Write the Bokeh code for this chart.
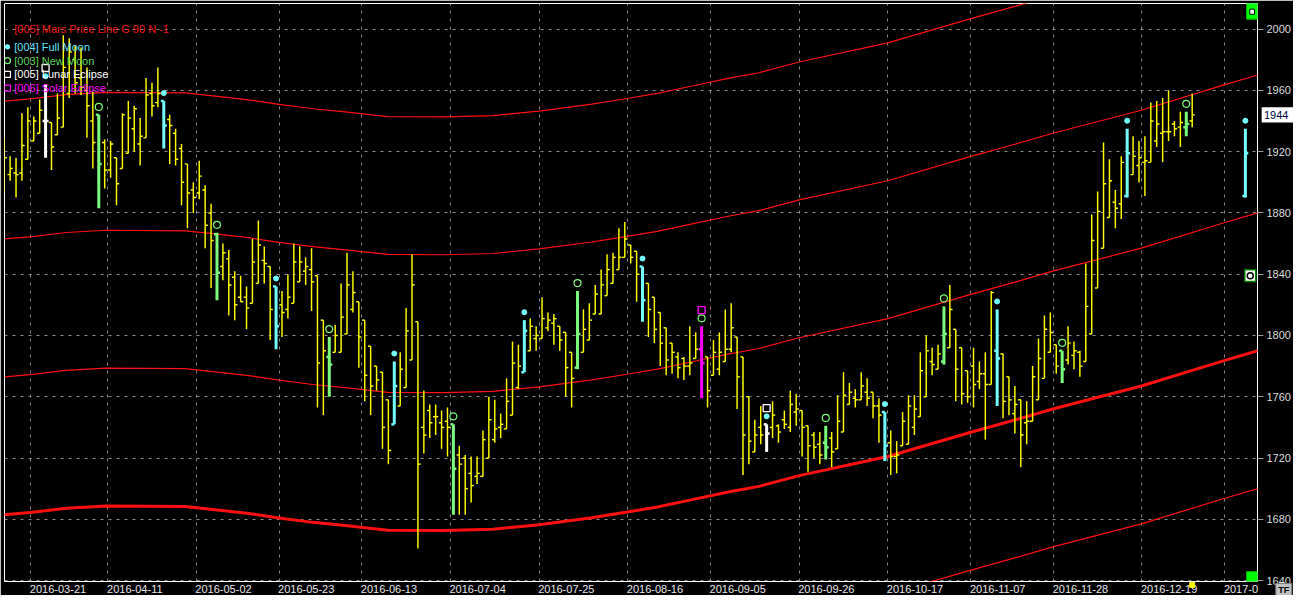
import pandas as pd
from bokeh.plotting import figure
from bokeh.models import FixedTicker, CustomJSTickFormatter, Range1d
from bokeh.core.properties import value
from bokeh.embed import file_html
from bokeh.resources import INLINE

# ---------------- data ----------------
first_day = "2016-03-14"
last_day = "2017-01-13"
holidays = ["2016-03-25", "2016-03-28", "2016-05-05", "2016-05-30",
            "2016-08-15", "2016-11-01", "2016-11-11", "2016-12-26"]

tick_dates = ["2016-03-21", "2016-04-11", "2016-05-02", "2016-05-23", "2016-06-13",
              "2016-07-04", "2016-07-25", "2016-08-16", "2016-09-05", "2016-09-26",
              "2016-10-17", "2016-11-07", "2016-11-28", "2016-12-19", "2017-01-09"]
tick_labels = ["2016-03-21", "2016-04-11", "2016-05-02", "2016-05-23", "2016-06-13",
               "2016-07-04", "2016-07-25", "2016-08-16", "2016-09-05", "2016-09-26",
               "2016-10-17", "2016-11-07", "2016-11-28", "2016-12-19", "2017-0"]
price_ticks = [1640, 1680, 1720, 1760, 1800, 1840, 1880, 1920, 1960, 2000]

high = [1929, 1917, 1916, 1945, 1949, 1943, 1954, 1964, 1939, 1958,
        1996, 1994, 1989, 1988, 1975, 1959, 1944, 1928, 1927, 1916,
        1945, 1953, 1950, 1942, 1968, 1965, 1975, 1953, 1944, 1935,
        1925, 1912, 1900, 1914, 1898, 1886, 1867, 1860, 1856, 1842,
        1839, 1832, 1863, 1875, 1858, 1845, 1832, 1829, 1840, 1860,
        1858, 1851, 1857, 1839, 1810, 1799, 1807, 1834, 1854, 1842,
        1822, 1810, 1793, 1780, 1776, 1758, 1783, 1789, 1818, 1853,
        1809, 1764, 1755, 1755, 1751, 1753, 1742, 1728, 1722, 1721,
        1721, 1738, 1760, 1758, 1749, 1772, 1796, 1794, 1810, 1811,
        1806, 1825, 1815, 1814, 1806, 1802, 1789, 1829, 1817, 1821,
        1833, 1843, 1853, 1854, 1870, 1874, 1859, 1855, 1845, 1834,
        1825, 1815, 1805, 1795, 1789, 1786, 1806, 1802, 1806, 1786,
        1797, 1802, 1817, 1821, 1799, 1786, 1760, 1745, 1754, 1742,
        1757, 1742, 1751, 1764, 1762, 1751, 1741, 1737, 1737, 1741,
        1737, 1761, 1776, 1769, 1765, 1776, 1772, 1763, 1759, 1750,
        1738, 1731, 1750, 1761, 1761, 1789, 1800, 1792, 1794, 1819,
        1833, 1804, 1792, 1777, 1792, 1783, 1789, 1829, 1817, 1788,
        1773, 1767, 1758, 1757, 1780, 1798, 1813, 1815, 1794, 1790,
        1806, 1796, 1790, 1847, 1879, 1894, 1926, 1915, 1895, 1917,
        1935, 1930, 1927, 1930, 1952, 1953, 1955, 1960, 1940, 1946,
        1946, 1958]
low = [1894, 1901, 1890, 1901, 1915, 1927, 1932, 1916, 1908, 1931,
       1936, 1955, 1958, 1957, 1929, 1909, 1883, 1896, 1903, 1885,
       1909, 1919, 1920, 1911, 1929, 1943, 1949, 1922, 1912, 1911,
       1885, 1870, 1880, 1889, 1857, 1831, 1823, 1836, 1813, 1810,
       1822, 1804, 1821, 1834, 1834, 1797, 1791, 1799, 1811, 1821,
       1835, 1833, 1816, 1753, 1748, 1760, 1789, 1789, 1801, 1815,
       1779, 1757, 1748, 1764, 1726, 1716, 1742, 1754, 1766, 1784,
       1661, 1723, 1733, 1735, 1726, 1721, 1683, 1683, 1683, 1691,
       1703, 1708, 1720, 1730, 1733, 1739, 1748, 1765, 1776, 1790,
       1790, 1798, 1803, 1794, 1790, 1760, 1753, 1778, 1789, 1797,
       1814, 1814, 1826, 1834, 1843, 1851, 1847, 1822, 1809, 1799,
       1795, 1780, 1774, 1775, 1772, 1771, 1774, 1785, 1759, 1753,
       1774, 1774, 1783, 1789, 1752, 1709, 1716, 1724, 1729, 1724,
       1733, 1730, 1739, 1737, 1741, 1721, 1711, 1720, 1716, 1719,
       1714, 1726, 1737, 1755, 1753, 1758, 1754, 1746, 1730, 1718,
       1709, 1710, 1728, 1729, 1735, 1747, 1760, 1774, 1778, 1781,
       1792, 1757, 1755, 1756, 1753, 1765, 1732, 1768, 1754, 1746,
       1748, 1736, 1714, 1729, 1744, 1758, 1772, 1789, 1775, 1769,
       1781, 1778, 1773, 1783, 1801, 1831, 1857, 1877, 1870, 1876,
       1890, 1905, 1900, 1891, 1913, 1923, 1913, 1927, 1930, 1923,
       1930, 1936]
open_ = [1895, 1905, 1906, 1906, 1915, 1927, 1932, 1940, 1939, 1931,
         1936, 1958, 1980, 1968, 1960, 1940, 1944, 1926, 1908, 1916,
         1909, 1919, 1935, 1925, 1929, 1958, 1952, 1953, 1941, 1932,
         1922, 1912, 1895, 1893, 1895, 1880, 1866, 1845, 1850, 1838,
         1825, 1825, 1821, 1834, 1849, 1845, 1832, 1820, 1817, 1821,
         1835, 1842, 1843, 1839, 1810, 1786, 1789, 1789, 1801, 1817,
         1822, 1810, 1793, 1780, 1776, 1758, 1742, 1754, 1766, 1784,
         1809, 1740, 1751, 1747, 1743, 1744, 1742, 1722, 1720, 1710,
         1708, 1708, 1720, 1732, 1740, 1739, 1748, 1766, 1776, 1790,
         1798, 1798, 1805, 1808, 1806, 1802, 1789, 1779, 1789, 1797,
         1814, 1814, 1826, 1834, 1843, 1851, 1859, 1855, 1845, 1834,
         1825, 1815, 1805, 1795, 1786, 1785, 1780, 1785, 1791, 1786,
         1774, 1778, 1783, 1791, 1799, 1786, 1760, 1724, 1740, 1742,
         1740, 1741, 1745, 1740, 1750, 1751, 1741, 1735, 1729, 1730,
         1733, 1726, 1737, 1755, 1759, 1758, 1763, 1763, 1754, 1750,
         1730, 1721, 1728, 1729, 1740, 1747, 1760, 1783, 1778, 1783,
         1792, 1804, 1792, 1777, 1780, 1770, 1775, 1768, 1790, 1788,
         1773, 1749, 1758, 1743, 1744, 1758, 1772, 1789, 1794, 1790,
         1784, 1787, 1789, 1783, 1801, 1831, 1857, 1877, 1887, 1886,
         1891, 1905, 1911, 1913, 1913, 1927, 1932, 1933, 1938, 1936,
         1936, 1940]
close = [1916, 1909, 1905, 1924, 1940, 1940, 1947, 1940, 1923, 1942,
         1975, 1985, 1965, 1962, 1950, 1926, 1912, 1908, 1925, 1899,
         1944, 1942, 1948, 1930, 1957, 1950, 1958, 1937, 1937, 1915,
         1900, 1893, 1890, 1904, 1872, 1862, 1841, 1854, 1833, 1820,
         1822, 1818, 1848, 1859, 1847, 1817, 1806, 1815, 1825, 1848,
         1848, 1845, 1835, 1782, 1790, 1781, 1800, 1812, 1833, 1828,
         1799, 1774, 1767, 1771, 1740, 1725, 1767, 1778, 1803, 1833,
         1716, 1735, 1743, 1747, 1740, 1740, 1713, 1716, 1700, 1702,
         1710, 1732, 1745, 1739, 1742, 1757, 1782, 1780, 1803, 1806,
         1800, 1811, 1810, 1811, 1797, 1779, 1772, 1801, 1804, 1810,
         1827, 1833, 1843, 1851, 1851, 1863, 1851, 1840, 1823, 1817,
         1804, 1795, 1784, 1789, 1779, 1780, 1782, 1791, 1782, 1764,
         1789, 1789, 1791, 1805, 1773, 1735, 1731, 1735, 1735, 1736,
         1748, 1737, 1742, 1755, 1752, 1740, 1728, 1727, 1722, 1727,
         1724, 1744, 1761, 1763, 1758, 1767, 1759, 1754, 1748, 1728,
         1721, 1722, 1744, 1754, 1752, 1777, 1790, 1781, 1788, 1801,
         1817, 1778, 1762, 1760, 1768, 1775, 1768, 1828, 1785, 1757,
         1758, 1755, 1735, 1744, 1773, 1785, 1804, 1802, 1780, 1778,
         1795, 1790, 1780, 1819, 1862, 1881, 1899, 1901, 1883, 1913,
         1919, 1917, 1916, 1914, 1940, 1938, 1933, 1933, 1935, 1939,
         1938, 1944]

full_moon_days = ["2016-03-23", "2016-04-22", "2016-05-20", "2016-06-20", "2016-07-20",
                  "2016-08-18", "2016-09-16", "2016-10-14", "2016-11-14", "2016-12-14"]
new_moon_days = ["2016-04-07", "2016-05-06", "2016-06-03", "2016-07-04", "2016-08-02",
                 "2016-09-01", "2016-09-30", "2016-10-28", "2016-11-29", "2016-12-29"]
lunar_eclipse_days = ["2016-03-23", "2016-09-16"]
solar_eclipse_days = ["2016-09-01"]

# projected full moon bar (2017-01-12)
future_full_moon_day = "2017-01-12"
future_open, future_high, future_low, future_close = 1891, 1935, 1890, 1919

# Mars price line (base harmonic), read at bar positions
mars_x = [0, 4.4, 10.5, 17.2, 30.6, 34.9, 41, 46.5, 52.2, 57.7, 64.9, 74.4, 82.7, 90.5,
          99.4, 105.4, 110.5, 116, 122.7, 127.7, 134.5, 149.5, 163.4, 171, 177.4,
          192.4, 206.4, 212.1]
mars_val = [1683, 1684.4, 1687.2, 1688.7, 1688.3, 1686.6, 1684, 1680.8, 1678, 1675.9,
            1672.9, 1672.7, 1673.5, 1676.5, 1681, 1684.7, 1688, 1692.5, 1698, 1701.5,
            1708.5, 1721, 1736.7, 1744.8, 1752, 1767, 1783.6, 1790]
mars_offsets = [-90, 0, 90, 180, 270]
last_price = 1944

# ---------------- styling ----------------
YELLOW = "#ffff00"
FM_COL = "#74ffff"
NM_COL = "#7cfc7c"
SE_COL = "#ff00ff"
LE_COL = "#ffffff"
RED = "#ff1010"
GRID = "#8a8a8a"
FONT = value("Liberation Sans")

days = [d for d in pd.bdate_range(first_day, last_day).strftime("%Y-%m-%d") if d not in holidays]
pos = {d: i for i, d in enumerate(days)}

X0, X1 = 0.05, 212.05
Y0, Y1 = 1639.4, 2016.7

p = figure(width=1293, height=595, output_backend="svg", toolbar_location=None,
           x_range=Range1d(X0, X1), y_range=Range1d(Y0, Y1), y_axis_location="right",
           background_fill_color="black", border_fill_color="black",
           min_border_left=4, min_border_top=3, min_border_right=0, min_border_bottom=0)
p.outline_line_color = "white"
p.outline_line_width = 1

# y axis (right)
yax = p.yaxis[0]
yax.ticker = FixedTicker(ticks=price_ticks)
yax.axis_line_color = None
yax.major_tick_out = 6
yax.major_tick_in = 0
yax.major_tick_line_color = "#9a9a9a"
yax.minor_tick_line_color = None
yax.major_label_text_color = "#dcdcdc"
yax.major_label_text_font = "Liberation Sans"
yax.major_label_text_font_size = "11px"
yax.major_label_standoff = 3

# x axis: grid at the start of each tick day, label left-aligned at the grid line
grid_pos = [pos[d] - 0.5 for d in tick_dates]
label_pos = [g + len(t) * 0.46 for g, t in zip(grid_pos, tick_labels)]
xax = p.xaxis[0]
xax.ticker = FixedTicker(ticks=label_pos)
xax.formatter = CustomJSTickFormatter(args=dict(pos=label_pos, labels=tick_labels), code="""
    for (let k = 0; k < pos.length; k++) { if (Math.abs(pos[k] - tick) < 1e-6) return labels[k]; }
    return "";
""")
xax.axis_line_color = None
xax.major_tick_out = 0
xax.major_tick_in = 0
xax.minor_tick_line_color = None
xax.major_label_text_color = "#e8e8e8"
xax.major_label_text_font = "Liberation Sans"
xax.major_label_text_font_size = "11px"
xax.major_label_standoff = 3

p.xgrid.ticker = FixedTicker(ticks=grid_pos)
p.ygrid.ticker = FixedTicker(ticks=price_ticks)
for g in (p.xgrid[0], p.ygrid[0]):
    g.grid_line_color = GRID
    g.grid_line_dash = "3 5"
    g.grid_line_width = 1

# Mars price lines
for off in mars_offsets:
    p.line(mars_x, [v + off for v in mars_val], line_color=RED,
           line_width=3 if off == 0 else 1.2)

# bars
fm_set, nm_set = set(full_moon_days), set(new_moon_days)
le_set, se_set = set(lunar_eclipse_days), set(solar_eclipse_days)
n = len(high)
plain = {"x": [], "o": [], "h": [], "l": [], "c": []}
special = {"x": [], "o": [], "h": [], "l": [], "c": [], "col": []}
for i in range(n):
    d = days[i]
    if d in le_set:
        col = LE_COL
    elif d in se_set:
        col = SE_COL
    elif d in fm_set:
        col = FM_COL
    elif d in nm_set:
        col = NM_COL
    else:
        col = None
    tgt = plain if col is None else special
    tgt["x"].append(i); tgt["o"].append(open_[i]); tgt["h"].append(high[i])
    tgt["l"].append(low[i]); tgt["c"].append(close[i])
    if col is not None:
        tgt["col"].append(col)

fi = pos[future_full_moon_day]
special["x"].append(fi); special["o"].append(future_open); special["h"].append(future_high)
special["l"].append(future_low); special["c"].append(future_close); special["col"].append(FM_COL)

tk = 0.45
BW = 1.45
p.segment(plain["x"], plain["l"], plain["x"], plain["h"], line_color=YELLOW, line_width=BW)
p.segment([x - tk for x in plain["x"]], plain["o"], plain["x"], plain["o"], line_color=YELLOW, line_width=BW)
p.segment(plain["x"], plain["c"], [x + tk for x in plain["x"]], plain["c"], line_color=YELLOW, line_width=BW)

tk2 = 0.5
p.segment(special["x"], special["l"], special["x"], special["h"], line_color=special["col"], line_width=3)
p.segment([x - tk2 for x in special["x"]], special["o"], special["x"], special["o"],
          line_color=special["col"], line_width=2.5)
p.segment(special["x"], special["c"], [x + tk2 for x in special["x"]], special["c"],
          line_color=special["col"], line_width=2.5)

# event markers above bars
mk1, mk2 = 5.2, 10.6
fm_x = [pos[d] for d in full_moon_days] + [fi]
fm_y = [high[pos[d]] + mk1 for d in full_moon_days] + [future_high + mk1]
p.scatter(fm_x, fm_y, marker="circle", size=5, fill_color=FM_COL, line_color=FM_COL)
nm_x = [pos[d] for d in new_moon_days]
nm_y = [high[pos[d]] + mk1 for d in new_moon_days]
p.scatter(nm_x, nm_y, marker="circle", size=7, fill_color=None, line_color=NM_COL, line_width=1.2)
p.scatter([pos[d] for d in lunar_eclipse_days], [high[pos[d]] + mk2 for d in lunar_eclipse_days],
          marker="square", size=7, fill_color=None, line_color=LE_COL, line_width=1.3)
p.scatter([pos[d] for d in solar_eclipse_days], [high[pos[d]] + mk2 for d in solar_eclipse_days],
          marker="square", size=7, fill_color=None, line_color=SE_COL, line_width=1.3)

# legend (top-left)
lx_mark, lx_text = 0.55, 1.7
p.text([lx_text], [2000.0], text=["[005] Mars Price Line G 90 N -1"], text_color="#f01818",
       text_font=FONT, text_font_size="11px", text_baseline="middle")
leg_items = [("[004] Full Moon", "#66e4ff", 1988.4, "circle", FM_COL, 4, True),
             ("[003] New Moon", "#5ed65e", 1979.4, "circle", NM_COL, 6, False),
             ("[005] Lunar Eclipse", "#ffffff", 1970.4, "square", LE_COL, 6, False),
             ("[006] Solar Eclipse", "#ff00ff", 1961.5, "square", SE_COL, 6, False)]
for txt, tcol, ly, mk, mcol, ms, filled in leg_items:
    p.text([lx_text], [ly], text=[txt], text_color=tcol, text_font=FONT,
           text_font_size="11px", text_baseline="middle")
    p.scatter([lx_mark], [ly], marker=mk, size=ms, fill_color=mcol if filled else None,
              line_color=mcol, line_width=1.2)

# small UI boxes on the right edge of the chart
p.quad(left=[210.2], right=[X1], bottom=[2006.5], top=[Y1], fill_color="#00ff00", line_color="#00c000")
p.quad(left=[210.75], right=[211.55], bottom=[2009.7], top=[2013.0], fill_color="white", line_color="black", line_width=1)
p.quad(left=[210.2], right=[X1], bottom=[Y0], top=[1645.8], fill_color="#00ff00", line_color="#00c000")
p.quad(left=[209.9], right=[211.75], bottom=[1835.2], top=[1842.9], fill_color="white", line_color="#008000", line_width=1.5)
p.scatter([210.82], [1839.0], marker="circle", size=6, fill_color=None, line_color="black", line_width=1.5)

# last price tag, current-bar marker and TF box, drawn outside the frame (overlay level)
p.quad(left=[X1 + 0.7], right=[X1 + 6.4], bottom=[last_price - 4.9], top=[last_price + 4.9],
       fill_color="white", line_color=None, level="overlay")
p.text([X1 + 1.1], [last_price], text=["1944"], text_color="#000040", text_font=FONT,
       text_font_size="11px", text_baseline="middle", level="overlay")
p.scatter([n - 1], [Y0 - 2.2], marker="square", size=5, fill_color=YELLOW, line_color=YELLOW,
          level="overlay")
p.quad(left=[X1 + 3.1], right=[X1 + 5.8], bottom=[Y0 - 9.2], top=[Y0 - 1.3],
       fill_color="#c0c0c0", line_color="#808080", level="overlay")
p.text([X1 + 4.45], [Y0 - 5.25], text=["TF"], text_color="black", text_font=FONT,
       text_font_size="9px", text_font_style="bold", text_align="center",
       text_baseline="middle", level="overlay")

open("out.html", "w").write(file_html(p, INLINE))
